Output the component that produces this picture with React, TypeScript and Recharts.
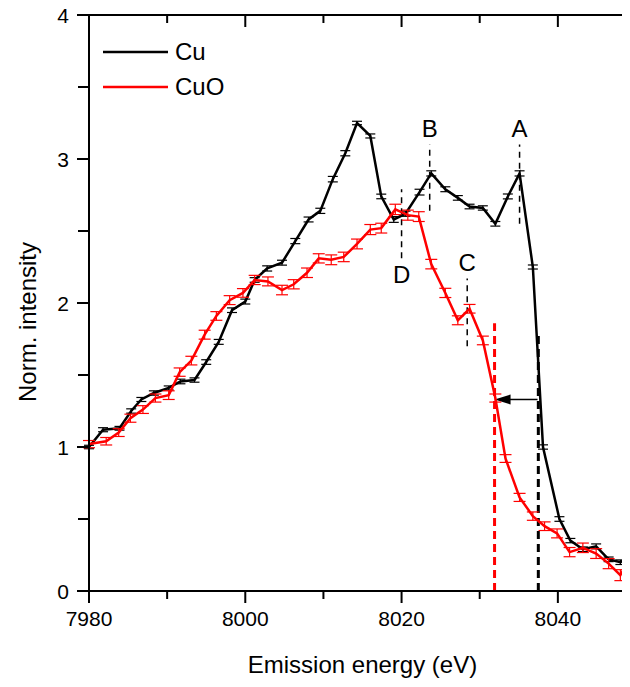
import { LineChart, Line, XAxis, YAxis, ErrorBar, ReferenceLine, ReferenceDot, Legend } from 'recharts'

const FONT = '"Liberation Sans", Arial, sans-serif'

const cuEnergy = [7980.0, 7981.8, 7983.9, 7985.4, 7986.7, 7988.3, 7990.2, 7991.7, 7993.5, 7995.0, 7996.6, 7998.3, 8000.0, 8001.2, 8002.8, 8004.7, 8006.4, 8008.1, 8009.6, 8011.2, 8012.8, 8014.3, 8016.0, 8017.4, 8019.0, 8020.5, 8022.3, 8023.8, 8025.6, 8027.2, 8028.7, 8030.4, 8032.0, 8033.6, 8035.1, 8036.8, 8038.1, 8040.2, 8041.6, 8043.2, 8044.9, 8046.5, 8048.0, 8049.6]
const cuIntensity = [1.0, 1.12, 1.13, 1.25, 1.33, 1.375, 1.41, 1.455, 1.465, 1.59, 1.73, 1.95, 2.01, 2.16, 2.24, 2.28, 2.43, 2.58, 2.64, 2.86, 3.04, 3.25, 3.16, 2.74, 2.58, 2.62, 2.77, 2.9, 2.79, 2.73, 2.67, 2.66, 2.55, 2.74, 2.9, 2.25, 1.0, 0.5, 0.35, 0.29, 0.31, 0.22, 0.2, 0.25]
const cuError = [0.012, 0.014, 0.013, 0.015, 0.014, 0.015, 0.014, 0.016, 0.015, 0.016, 0.017, 0.016, 0.017, 0.016, 0.018, 0.017, 0.018, 0.017, 0.018, 0.019, 0.018, 0.012, 0.014, 0.016, 0.02, 0.018, 0.02, 0.018, 0.017, 0.016, 0.016, 0.015, 0.016, 0.017, 0.018, 0.014, 0.015, 0.016, 0.015, 0.016, 0.017, 0.016, 0.016, 0.017]

const cuoEnergy = [7980.0, 7982.2, 7983.8, 7985.3, 7986.9, 7988.5, 7990.2, 7991.6, 7993.1, 7994.8, 7996.3, 7998.0, 7999.7, 8001.2, 8002.9, 8004.7, 8006.2, 8007.9, 8009.4, 8011.0, 8012.6, 8014.3, 8016.0, 8017.4, 8019.2, 8020.8, 8022.2, 8023.8, 8025.6, 8027.2, 8028.7, 8030.4, 8032.0, 8033.3, 8035.1, 8036.8, 8038.3, 8039.9, 8041.5, 8043.2, 8044.9, 8046.5, 8048.0, 8049.6]
const cuoIntensity = [1.02, 1.04, 1.1, 1.2, 1.26, 1.34, 1.36, 1.52, 1.6, 1.78, 1.91, 2.02, 2.07, 2.16, 2.15, 2.09, 2.13, 2.21, 2.31, 2.3, 2.32, 2.41, 2.51, 2.52, 2.65, 2.61, 2.6, 2.27, 2.07, 1.88, 1.96, 1.74, 1.34, 0.92, 0.65, 0.52, 0.45, 0.4, 0.27, 0.3, 0.26, 0.19, 0.11, 0.26]
const cuoError = [0.025, 0.026, 0.027, 0.028, 0.027, 0.028, 0.03, 0.029, 0.03, 0.031, 0.03, 0.031, 0.03, 0.032, 0.031, 0.033, 0.032, 0.033, 0.032, 0.034, 0.033, 0.034, 0.035, 0.034, 0.036, 0.035, 0.034, 0.033, 0.032, 0.031, 0.03, 0.03, 0.028, 0.027, 0.028, 0.029, 0.03, 0.031, 0.032, 0.033, 0.034, 0.035, 0.038, 0.034]

// peak markers
const peakNames = ['A', 'B', 'C', 'D']
const peakEnergy = [8035.1, 8023.6, 8028.4, 8020.0]
const peakLineTop = [3.1, 3.1, 2.17, 2.79]
const peakLineBottom = [2.55, 2.64, 1.7, 2.31]
const peakLabelY = [3.21, 3.21, 2.28, 2.2]

// edge positions (dashed) and shift arrow
const edgeEnergy = [8037.5, 8031.9]
const edgeTop = [1.77, 1.86]
const edgeColor = ['#000000', '#ff0000']
const arrowFrom = 8037.4
const arrowTo = 8031.9
const arrowLevel = 1.33

const xTicks = [7980, 7990, 8000, 8010, 8020, 8030, 8040, 8050]
const yTicks = [0, 0.5, 1, 1.5, 2, 2.5, 3, 3.5, 4]

const cuData = cuEnergy.map((x, i) => ({ x, y: cuIntensity[i], err: cuError[i] }))
const cuoData = cuoEnergy.map((x, i) => ({ x, y: cuoIntensity[i], err: cuoError[i] }))

const series = [
  { name: 'Cu', color: '#000000' },
  { name: 'CuO', color: '#ff0000' },
]

// chart layout; height kept so the page does not scroll (8 + 671 + 8 = 687)
const W = 640
const H = 671
const M = { top: 7, right: 12, bottom: 0, left: 0 }
const Y_AXIS_W = 81
const X_AXIS_H = 88
const PLOT_L = M.left + Y_AXIS_W
const PLOT_T = M.top
const PLOT_W = W - M.left - M.right - Y_AXIS_W
const PLOT_H = H - M.top - M.bottom - X_AXIS_H

const LeftTick = (p: any) => {
  const v = p.payload.value
  const major = Number.isInteger(v)
  return (
    <g>
      <line x1={p.x} x2={p.x - (major ? 12 : 11)} y1={p.y} y2={p.y} stroke="#000" strokeWidth={2} />
      {major && (
        <text x={p.x - 20} y={p.y} dy="0.36em" textAnchor="end" fontSize={21} fontFamily={FONT} fill="#000">{v}</text>
      )}
    </g>
  )
}
const BottomTick = (p: any) => {
  const v = p.payload.value
  const major = v % 20 === 0
  return (
    <g>
      <line x1={p.x} x2={p.x} y1={p.y} y2={p.y + (major ? 12 : 8)} stroke="#000" strokeWidth={2} />
      {major && (
        <text x={p.x} y={p.y + 35} textAnchor="middle" fontSize={21} fontFamily={FONT} fill="#000">{v}</text>
      )}
    </g>
  )
}

// top and right frame edges with inward ticks, laid over the chart
const Frame = () => {
  const toX = (v: number) => PLOT_L + ((v - xTicks[0]) / (xTicks[xTicks.length - 1] - xTicks[0])) * PLOT_W
  const toY = (v: number) => PLOT_T + PLOT_H - ((v - yTicks[0]) / (yTicks[yTicks.length - 1] - yTicks[0])) * PLOT_H
  const right = PLOT_L + PLOT_W
  return (
    <svg width={W} height={H} style={{ position: 'absolute', left: 0, top: 0, pointerEvents: 'none' }}>
      <line x1={PLOT_L - 1} x2={right + 1} y1={PLOT_T} y2={PLOT_T} stroke="#000" strokeWidth={2} />
      <line x1={right} x2={right} y1={PLOT_T} y2={PLOT_T + PLOT_H} stroke="#000" strokeWidth={2} />
      {xTicks.map((t) => (
        <line key={'t' + t} x1={toX(t)} x2={toX(t)} y1={PLOT_T} y2={PLOT_T + (t % 20 === 0 ? 12 : 8)} stroke="#000" strokeWidth={2} />
      ))}
      {yTicks.map((t) => (
        <line key={'r' + t} x1={right} x2={right - (Number.isInteger(t) ? 12 : 8)} y1={toY(t)} y2={toY(t)} stroke="#000" strokeWidth={2} />
      ))}
    </svg>
  )
}

const ArrowShape = (p: any) => {
  const { x1, y1, x2, y2 } = p
  return (
    <g>
      <line x1={x1} y1={y1} x2={x2 + 14} y2={y2} stroke="#000" strokeWidth={1.5} />
      <polygon points={`${x2},${y2} ${x2 + 16},${y2 - 5} ${x2 + 16},${y2 + 5}`} fill="#000" />
    </g>
  )
}

const YLabel = (p: any) => {
  const vb = p.viewBox
  const cx = vb.x + 19
  const cy = vb.y + vb.height / 2 + 19
  return (
    <text x={cx} y={cy} transform={`rotate(-90, ${cx}, ${cy})`} textAnchor="middle" dominantBaseline="central" fontSize={24} fontFamily={FONT} fill="#000">
      Norm. intensity
    </text>
  )
}

const LegendBox = () => (
  <div style={{ fontFamily: FONT, fontSize: 24, color: '#000' }}>
    {series.map((s) => (
      <div key={s.name} style={{ display: 'flex', alignItems: 'center', height: 35 }}>
        <svg width={65} height={4}>
          <line x1={0} x2={65} y1={2} y2={2} stroke={s.color} strokeWidth={2.5} />
        </svg>
        <span style={{ marginLeft: 7 }}>{s.name}</span>
      </div>
    ))}
  </div>
)

export default function App() {
  return (
    <div style={{ position: 'relative', width: 622, height: H, overflow: 'hidden', fontFamily: FONT }}>
      <LineChart width={W} height={H} margin={M}>
        <XAxis dataKey="x" type="number" domain={[7980, 8050]} ticks={xTicks} interval={0} allowDataOverflow
          stroke="#000" strokeWidth={2} tickLine={false} tickSize={0} tickMargin={0} tick={<BottomTick />} height={X_AXIS_H}
          label={{ value: 'Emission energy (eV)', position: 'insideBottom', offset: 6, fontSize: 24, fontFamily: FONT, fill: '#000' }} />
        <YAxis type="number" domain={[0, 4]} ticks={yTicks} interval={0} allowDataOverflow width={Y_AXIS_W}
          stroke="#000" strokeWidth={2} tickLine={false} tickSize={0} tickMargin={0} tick={<LeftTick />} label={<YLabel />} />
        <Legend layout="vertical" align="center" verticalAlign="middle" content={<LegendBox />}
          wrapperStyle={{ left: 95, top: 26, width: 'auto' }} />

        {peakNames.map((n, i) => (
          <ReferenceLine key={'pl' + n} segment={[{ x: peakEnergy[i], y: peakLineBottom[i] }, { x: peakEnergy[i], y: peakLineTop[i] }]}
            stroke="#000" strokeWidth={1.5} strokeDasharray="6 5" />
        ))}
        {peakNames.map((n, i) => (
          <ReferenceDot key={'pd' + n} x={peakEnergy[i]} y={peakLabelY[i]} r={0} fill="none" stroke="none"
            label={{ value: n, position: 'center', fontSize: 24, fontFamily: FONT, fill: '#000' }} />
        ))}
        {edgeEnergy.map((e, i) => (
          <ReferenceLine key={'edge' + i} segment={[{ x: e, y: 0 }, { x: e, y: edgeTop[i] }]}
            stroke={edgeColor[i]} strokeWidth={3} strokeDasharray="8 5" />
        ))}
        <ReferenceLine segment={[{ x: arrowFrom, y: arrowLevel }, { x: arrowTo, y: arrowLevel }]} shape={<ArrowShape />} />

        <Line data={cuData} dataKey="y" name="Cu" stroke="#000000" strokeWidth={2.5} dot={false} isAnimationActive={false}>
          <ErrorBar dataKey="err" width={5} stroke="#000000" strokeWidth={1.2} direction="y" />
        </Line>
        <Line data={cuoData} dataKey="y" name="CuO" stroke="#ff0000" strokeWidth={2.5} dot={false} isAnimationActive={false}>
          <ErrorBar dataKey="err" width={6} stroke="#ff0000" strokeWidth={1.2} direction="y" />
        </Line>
      </LineChart>
      <Frame />
    </div>
  )
}
